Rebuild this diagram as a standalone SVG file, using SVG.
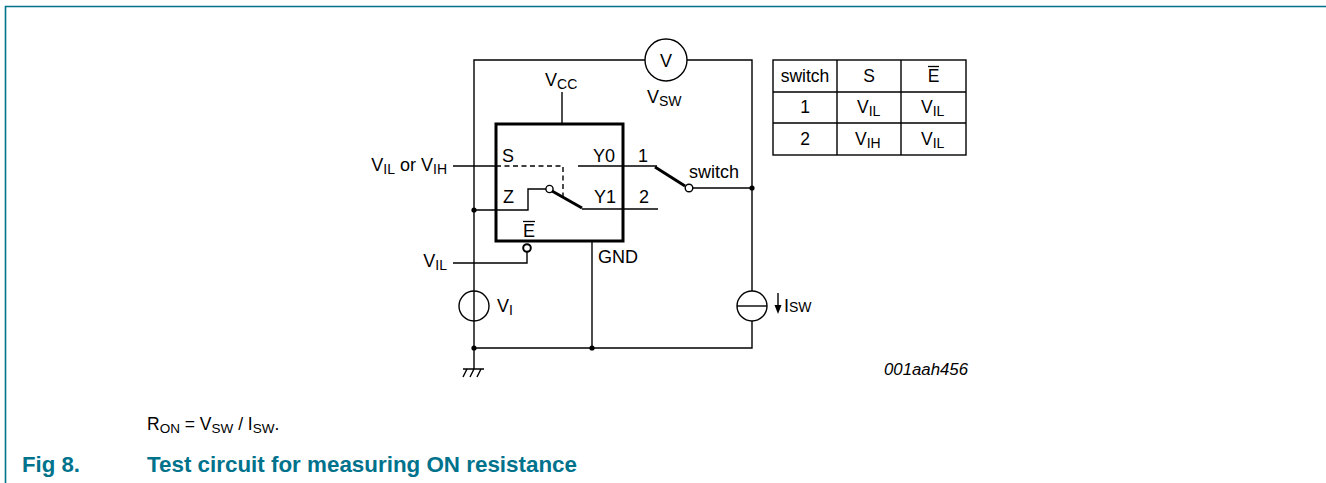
<svg xmlns="http://www.w3.org/2000/svg" width="1326" height="483" viewBox="0 0 1326 483">
<style>
.w{fill:none;stroke:#000;stroke-width:1.4}
.thick{fill:none;stroke:#000;stroke-width:3}
.dash{fill:none;stroke:#000;stroke-width:1.4;stroke-dasharray:5,3.5}
text{font-family:"Liberation Sans",Arial,sans-serif;font-size:18px;fill:#000}
.s{font-size:14px}
.t{font-size:17.5px}
.ts{font-size:14px}
.id{font-style:italic;font-size:16.8px}
.f{font-size:17.5px}
.fs{font-size:13.5px}
.cap{fill:#00728c;font-weight:bold;font-size:21.5px}
.dot{fill:#000}
</style>
<rect width="1326" height="483" fill="#fff"/>
<g id="frame"><path d="M5.5,483 V6.5 H1326" fill="none" stroke="#00728c" stroke-width="1.6"/></g>

<g id="connectors">
<path class="w" d="M474,348 V60 H645 M687,60 H752 V291 M752,321 V348 H474"/>
<path class="w" d="M562,92 V124"/>
<path class="w" d="M453,166 H496"/>
<path class="dash" d="M496,166 H563 V196"/>
<path class="w" d="M578,166 H657"/>
<path class="w" d="M474,210 H528 V189 H546"/>
<path class="w" d="M582,209 H658"/>
<path class="w" d="M693,188 H752"/>
<path class="w" d="M527,252 V263 H453"/>
<path class="w" d="M592,241 V348"/>
<path class="w" d="M474,348 V369 M463,369 H484 M467,369 L463,377 M474,369 L470,377 M481,369 L477,377"/>
<circle class="dot" cx="474" cy="210" r="2.6"/>
<circle class="dot" cx="752" cy="188" r="2.6"/>
<circle class="dot" cx="474" cy="348" r="2.6"/>
<circle class="dot" cx="592" cy="348" r="2.6"/>
</g>

<g id="voltmeter">
<circle class="w" cx="666" cy="60" r="21" fill="#fff"/>
<text x="666" y="66.5" text-anchor="middle">V</text>
<text x="647" y="103">V<tspan class="s" dy="3">SW</tspan></text>
</g>

<g id="ic">
<rect class="thick" x="496" y="124" width="127" height="117"/>
<text x="545" y="86">V<tspan class="s" dy="3">CC</tspan></text>
<text x="502" y="162">S</text>
<text x="593" y="162">Y0</text>
<text x="503" y="203">Z</text>
<text x="594" y="203">Y1</text>
<text x="523" y="237">E</text>
<line x1="523" y1="221.5" x2="535" y2="221.5" stroke="#000" stroke-width="1.3"/>
<text x="598" y="263">GND</text>
<circle cx="549.5" cy="189" r="3.6" fill="#fff" stroke="#000" stroke-width="1.4"/>
<line class="thick" x1="552" y1="191" x2="582" y2="208"/>
<circle cx="527" cy="248" r="3.8" fill="#fff" stroke="#000" stroke-width="2"/>
</g>

<g id="switch">
<text x="638" y="162">1</text>
<text x="639" y="203">2</text>
<line class="thick" x1="655" y1="167" x2="685" y2="186"/>
<circle cx="689" cy="188" r="3.8" fill="#fff" stroke="#000" stroke-width="1.4"/>
<text x="689" y="178">switch</text>
</g>

<g id="inputs">
<text x="447" y="171" text-anchor="end">V<tspan class="s" dy="3">IL</tspan><tspan dy="-3"> or V</tspan><tspan class="s" dy="3">IH</tspan></text>
<text x="447" y="267" text-anchor="end">V<tspan class="s" dy="3">IL</tspan></text>
</g>

<g id="vi-source">
<circle class="w" cx="474" cy="306" r="15" fill="#fff"/>
<text x="497" y="312">V<tspan class="s" dy="3">I</tspan></text>
</g>

<g id="isw-source">
<circle class="w" cx="752" cy="306" r="15" fill="#fff"/>
<line class="w" x1="737" y1="306" x2="767" y2="306"/>
<line class="w" x1="778" y1="293" x2="778" y2="306"/>
<path d="M774.5,305 L781.5,305 L778,314 Z" fill="#000"/>
<text x="784" y="312">I<tspan class="s">SW</tspan></text>
</g>

<g id="table">
<rect class="w" x="773" y="60" width="193" height="95"/>
<path class="w" d="M837,60 V155 M901,60 V155 M773,92 H966 M773,123 H966"/>
<text class="t" x="805" y="82" text-anchor="middle">switch</text>
<text class="t" x="869" y="82" text-anchor="middle">S</text>
<text class="t" x="933.5" y="82" text-anchor="middle">E</text>
<line x1="928" y1="66.5" x2="939" y2="66.5" stroke="#000" stroke-width="1.3"/>
<text class="t" x="805" y="113" text-anchor="middle">1</text>
<text class="t" x="857" y="113">V<tspan class="ts" dy="3">IL</tspan></text>
<text class="t" x="921" y="113">V<tspan class="ts" dy="3">IL</tspan></text>
<text class="t" x="805" y="145" text-anchor="middle">2</text>
<text class="t" x="855" y="145">V<tspan class="ts" dy="3">IH</tspan></text>
<text class="t" x="921" y="145">V<tspan class="ts" dy="3">IL</tspan></text>
</g>

<g id="labels">
<text class="id" x="884" y="375">001aah456</text>
<text class="f" x="147" y="430">R<tspan class="fs" dy="3">ON</tspan><tspan dy="-3"> = V</tspan><tspan class="fs" dy="3">SW</tspan><tspan dy="-3"> / I</tspan><tspan class="fs" dy="3">SW</tspan><tspan dy="-3">.</tspan></text>
<text class="cap" x="22" y="472" textLength="58" lengthAdjust="spacingAndGlyphs">Fig 8.</text>
<text class="cap" x="147" y="472" textLength="430" lengthAdjust="spacingAndGlyphs">Test circuit for measuring ON resistance</text>
</g>
</svg>
